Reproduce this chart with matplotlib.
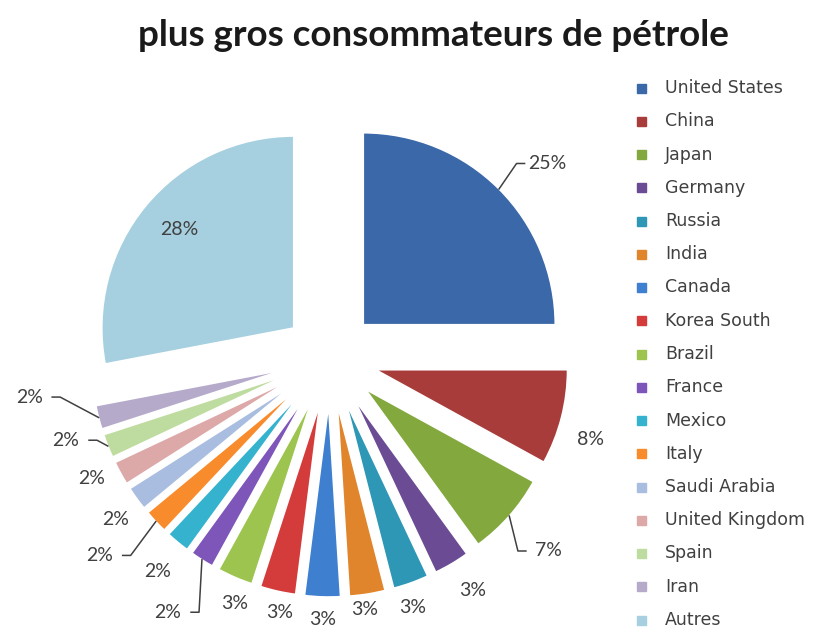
import numpy as np
import matplotlib
matplotlib.use("Agg")
from matplotlib import pyplot as plt
from matplotlib.patches import Rectangle

# data
countries = ["United States", "China", "Japan", "Germany", "Russia", "India",
             "Canada", "Korea South", "Brazil", "France", "Mexico", "Italy",
             "Saudi Arabia", "United Kingdom", "Spain", "Iran", "Autres"]
shares = [25, 8, 7, 3, 3, 3, 3, 3, 3, 2, 2, 2, 2, 2, 2, 2, 28]
colors = ["#3B68A8", "#A83C3A", "#82A83E", "#6B4C94", "#2D97B5", "#E0852C",
          "#3F7FD0", "#D43C3C", "#9CC44E", "#7E55B8", "#35B2CE", "#F88C2C",
          "#A9BDE0", "#DDA8A8", "#BFDCA0", "#B6AACB", "#A6D0E0"]
title = "plus gros consommateurs de pétrole"

# label layout: radius factor and angle tweak per slice, leaders on some
lab_r = [1.52, 1.42, 1.52, 1.42, 1.37, 1.32, 1.36, 1.35, 1.37,
         1.57, 1.43, 1.58, 1.40, 1.39, 1.44, 1.58, 1.03]
lab_da = [-3.2, -3.1, 0, 0.9, -1.6, -1.1, 0.1, 1.5, 2.2,
          -0.1, 0.8, -2.6, 1.0, -2.0, -4.3, -7.0, -0.9]
leaders = [0, 2, 9, 11, 14, 15]

W, H = 815, 632
cx, cy, R = 330, H - 358, 192
expl = 0.245

fig = plt.figure(figsize=(W / 100, H / 100), dpi=100)
ax = fig.add_axes([0, 0, 1, 1])

# pie explode is an absolute offset, so scale it by the radius
wedges, _ = ax.pie(shares, colors=colors, startangle=90, counterclock=False,
                   explode=[expl * R] * len(shares), radius=R, center=(cx, cy),
                   wedgeprops=dict(edgecolor="white", linewidth=1.2))
ax.set_xlim(0, W)
ax.set_ylim(0, H)
ax.set_aspect("equal")
ax.axis("off")

txt_col = "#404040"
for i, w in enumerate(wedges):
    mid = (w.theta1 + w.theta2) / 2
    a = np.deg2rad(mid + lab_da[i])
    lx = cx + lab_r[i] * R * np.cos(a)
    ly = cy + lab_r[i] * R * np.sin(a)
    ax.text(lx, ly, f"{shares[i]}%", ha="center", va="center",
            fontsize=14, family="Lato", color=txt_col)
    if i in leaders:
        m = np.deg2rad(mid)
        px = cx + (1 + expl) * R * np.cos(m)
        py = cy + (1 + expl) * R * np.sin(m)
        s = 1 if lx > px else -1
        ex = lx - s * 23
        bx = ex - s * 8
        ax.plot([px, bx, ex], [py, ly, ly], color=txt_col, lw=1.1)

ax.text(433, H - 35, title, ha="center", va="center", fontsize=26.5,
        family="Lato", fontweight="bold", color="#1a1a1a")

# legend
for i, (name, c) in enumerate(zip(countries, colors)):
    y = H - (88 + i * 33.25)
    ax.add_patch(Rectangle((637, y - 4.5), 9, 9, color=c))
    ax.text(665, y, name, ha="left", va="center", fontsize=12.5,
            family="DejaVu Sans", color=txt_col)

fig.savefig("out.png", dpi=100)
